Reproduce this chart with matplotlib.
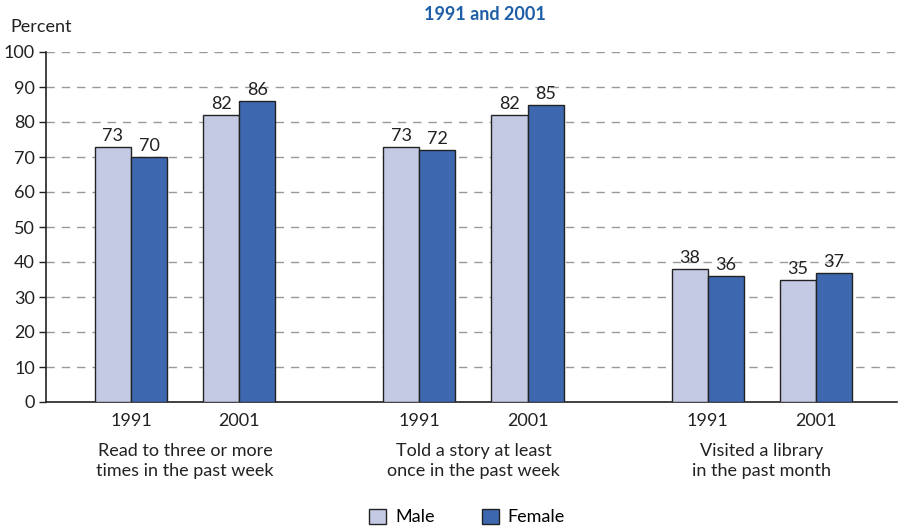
import matplotlib.pyplot as plt
import numpy as np
from matplotlib.patches import Patch

plt.rcParams['font.family'] = ['Lato', 'DejaVu Sans']

# data
groups = ["Read to three or more\ntimes in the past week",
          "Told a story at least\nonce in the past week",
          "Visited a library\nin the past month"]
years = ["1991", "2001"]
male = [73, 82, 73, 82, 38, 35]
female = [70, 86, 72, 85, 36, 37]

c_male = "#c5cae4"
c_female = "#3d68b0"
edge = "#222222"
fs = 13

fig = plt.figure(figsize=(9.01, 5.31), dpi=100)
ax = fig.add_axes([46 / 901, 1 - 402 / 531, 851 / 901, 350 / 531])

# pair centres: 8 units between groups, 3 between years
centers = np.array([g * 8 + y * 3 for g in range(3) for y in range(2)], dtype=float)
w = 1.0

ax.bar(centers - w / 2, male, w, color=c_male, edgecolor=edge, linewidth=1, zorder=3)
ax.bar(centers + w / 2, female, w, color=c_female, edgecolor=edge, linewidth=1, zorder=3)

for x, m, f in zip(centers, male, female):
    ax.text(x - w / 2, m + 0.8, str(m), ha="center", va="bottom", fontsize=fs, color="#222")
    ax.text(x + w / 2, f + 0.8, str(f), ha="center", va="bottom", fontsize=fs, color="#222")

ax.set_xlim(-2.358, 21.25)
ax.set_ylim(0, 100)
ax.set_yticks(range(0, 101, 10))
ax.tick_params(axis="y", labelsize=fs, length=5, width=1, colors="#222", pad=3)
ax.set_xticks(centers)
ax.set_xticklabels(years * 3, fontsize=fs, color="#222")
ax.tick_params(axis="x", length=0, pad=8)

ax.grid(axis="y", linestyle=(0, (6, 5)), color="#999999", linewidth=1, zorder=0)
for s in ["top", "right"]:
    ax.spines[s].set_visible(False)
ax.spines["left"].set_color("#222")
ax.spines["bottom"].set_color("#222")
ax.spines["left"].set_linewidth(1.2)
ax.spines["bottom"].set_linewidth(1.2)

# group labels
for g, lab in enumerate(groups):
    gx = g * 8 + 1.5
    ax.text(gx, -11.8, lab, ha="center", va="top", fontsize=fs, color="#222",
            linespacing=1.25, clip_on=False)

fig.text(10 / 901, 1 - 27 / 531, "Percent", fontsize=fs, color="#222", va="center")
fig.text(485 / 901, 1 - 14 / 531, "1991 and 2001", fontsize=fs, fontweight="bold",
         color="#1f5fa8", ha="center", va="center")

# legend
handles = [Patch(facecolor=c_male, edgecolor=edge, label="Male"),
           Patch(facecolor=c_female, edgecolor=edge, label="Female")]
fig.legend(handles=handles, loc="center", bbox_to_anchor=(467 / 901, 1 - 517 / 531),
           ncol=2, frameon=False, fontsize=fs, handlelength=0.95, handleheight=0.95,
           columnspacing=2.6, handletextpad=0.5)

fig.savefig("out.png", dpi=100)
